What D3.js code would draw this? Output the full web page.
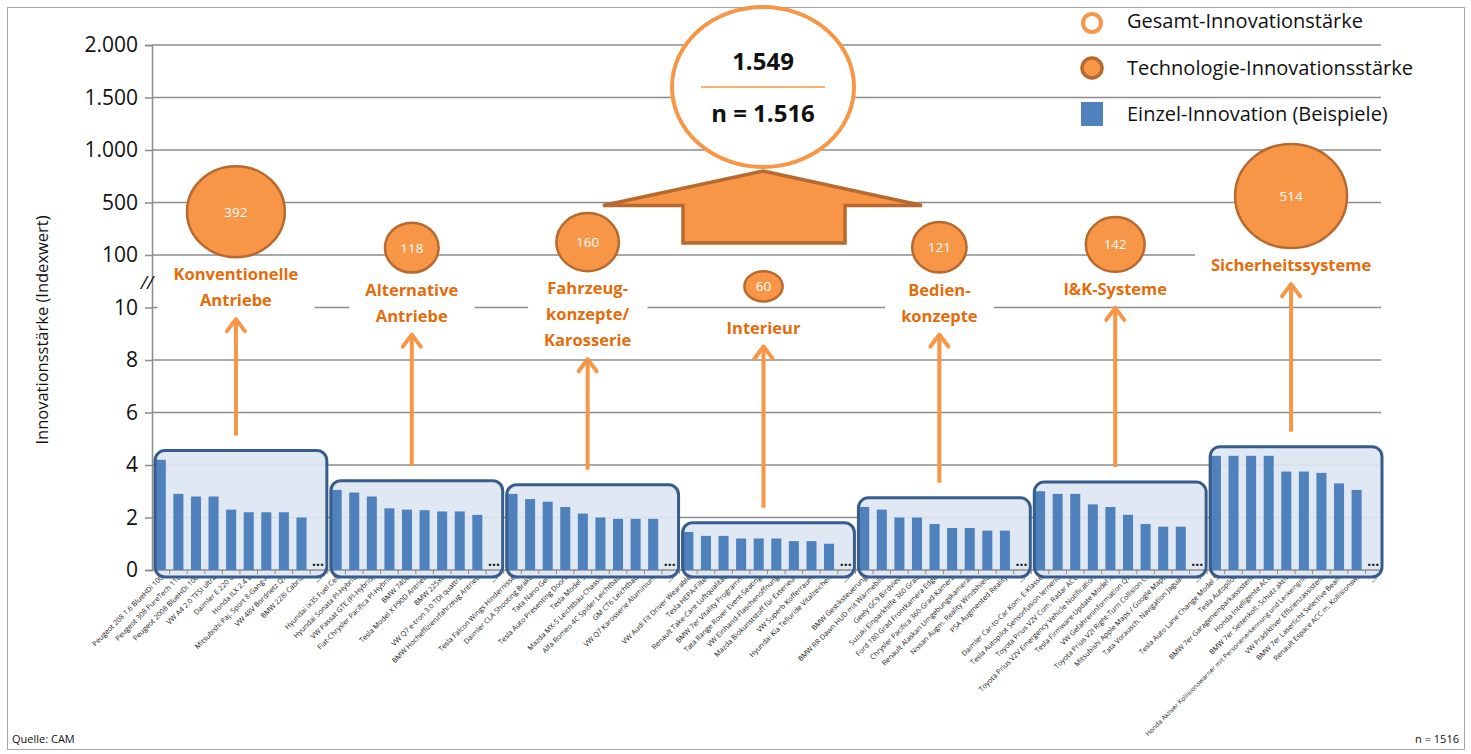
<!DOCTYPE html>
<html>
<head>
<meta charset="utf-8">
<script src="https://cdn.jsdelivr.net/npm/d3@7"></script>
<style>
  body { margin: 0; background: #fff; }
  svg { font-family: "Open Sans", Lato, sans-serif; }
</style>
</head>
<body>
<svg id="chart"></svg>
<script>
// Innovationsstärke nach Technologiefeldern

const width = 1471, height = 754;

const yTicks = [0, 2, 4, 6, 8, 10, 100, 500, 1000, 1500, 2000];
const yTickLabels = ["0", "2", "4", "6", "8", "10", "100", "500", "1.000", "1.500", "2.000"];

const fieldNames = [
    ["Konventionelle", "Antriebe"],
    ["Alternative", "Antriebe"],
    ["Fahrzeug-", "konzepte/", "Karosserie"],
    ["Interieur"],
    ["Bedien-", "konzepte"],
    ["I&K-Systeme"],
    ["Sicherheitssysteme"]
];
const fieldScores = [392, 118, 160, 60, 121, 142, 514];

const innovationNames = [
    ["Peugeot 208 1.6 BlueHDi 100", "Peugeot 308 PureTech 110", "Peugeot 2008 BlueHDi 100", "VW A4 2.0 TFSI ultra",
     "Daimler E 220 d", "Honda ILX 2.4 L", "Mitsubishi Paj. Sport 8-Gang-A", "VW 48V Bordnetz Q7", "BMW 228i Cabrio"],
    ["Hyundai ix35 Fuel Cell", "Hyundai Sonata Pl-Hybrid", "VW Passat GTE (Pl-Hybrid)", "Fiat-Chrysler Pacifica Pl-Hybrid",
     "BMW 740e", "Tesla Model X P90D Antrieb", "BMW 225xe", "VW Q7 e-tron 3.0 TDI quattro", "BMW Hocheffizienzfahrzeug Antrieb"],
    ["Tesla Falcon Wings Hindernisse", "Daimler CLA Shooting Brake", "Tata Nano Gen", "Tesla Auto Presenting Doors",
     "Tesla Model 3", "Mazda MX-5 Leichtbau-Chassis", "Alfa Romeo 4C Spider Leichtbau", "GM CT6 Leichtbau", "VW Q7 Karosserie Aluminium"],
    ["VW Audi Fit Driver Wearable", "Tesla HEPA-Filter", "Renault Take-Care Luftqualität", "BMW 7er Vitality Programm",
     "Tata Range Rover Event-Seating", "VW Einhand-Flaschenöffnung", "Mazda Biokunststoff für Exterieur", "VW Superb Kofferraum",
     "Hyundai Kia Telluride Vitalzeichen"],
    ["BMW Gestiksteuerung", "BMW RR Dawn HUD mit Wärmebild", "Geely GC9 Birdview", "Suzuki Einparkhilfe 360 Grad",
     "Ford 180 Grad Frontkamera Edge", "Chrysler Pacifica 360-Grad-Kamera", "Renault Alaskan Umgebungskameras",
     "Nissan Augm. Reality Windshield", "PSA Augmented Reality"],
    ["Daimler Car-to-Car Kom. E-Klasse", "Tesla Autopilot Sensorfusion lernend", "Toyota Prius V2V Com. Radar ACC",
     "Toyota Prius V2V Emergency Vehicle Notification", "Tesla Firmware-Update Model X", "VW Gefahreninformation Q7",
     "Toyota Prius V2I Right-Turn Collision C.", "Mitsubishi Apple Maps / Google Maps", "Tata Vorausch. Navigation Jaguar"],
    ["Tesla Auto Lane Change Model S", "Tesla Autopilot", "BMW 7er Garageneinparkassistent", "Honda Intelligente ACC",
     "BMW 7er Seitenkoll.-Schutz aktiv", "Honda Aktiver Kollisionswarner mit Personenerkennung und Lenkeingriff",
     "VW Prädiktiver Effizienzassistent", "BMW 7er Laserlicht Selective Beam", "Renault Espace ACC m. Kollisionsw."]
];
const innovationValues = [
    [4.2, 2.9, 2.8, 2.8, 2.3, 2.2, 2.2, 2.2, 2.0],
    [3.05, 2.95, 2.8, 2.35, 2.3, 2.28, 2.23, 2.23, 2.1],
    [2.9, 2.7, 2.6, 2.4, 2.15, 2.0, 1.95, 1.95, 1.95],
    [1.45, 1.3, 1.3, 1.2, 1.2, 1.2, 1.1, 1.1, 1.0],
    [2.4, 2.3, 2.0, 2.0, 1.75, 1.6, 1.6, 1.5, 1.5],
    [3.0, 2.9, 2.9, 2.5, 2.4, 2.1, 1.75, 1.65, 1.65],
    [4.35, 4.35, 4.35, 4.35, 3.75, 3.75, 3.7, 3.3, 3.05]
];
const totalScore = "1.549";
const totalCount = "n = 1.516";
const legendItems = ["Gesamt-Innovationstärke", "Technologie-Innovationsstärke", "Einzel-Innovation (Beispiele)"];
const sourceText = "Quelle: CAM";
const sampleText = "n = 1516";

const orange = "#F79646", orangeDark = "#B8692F", orangeText = "#E46C0A";
const barBlue = "#4F81BD", boxStroke = "#385D8A", boxFill = "#DCE6F2";

// one slot per innovation plus a "..." slot per field
const slots = [];
innovationNames.forEach((names, g) => {
    names.forEach((n, i) => slots.push({ key: g + "-" + i, group: g, name: n, value: innovationValues[g][i] }));
    slots.push({ key: g + "-more", group: g, name: "…", value: null });
});

const svg = d3.select("#chart").attr("width", width).attr("height", height);

svg.append("rect")
    .attr("x", 7.5).attr("y", 7.5).attr("width", width - 14).attr("height", height - 12)
    .attr("fill", "#fff").attr("stroke", "#a6a6a6");

const plotLeft = 152, plotRight = 1383;
const x = d3.scaleBand().domain(slots.map(d => d.key)).range([plotLeft, plotRight]);
const y = d3.scaleLinear()
    .domain(yTicks)
    .range(yTicks.map((d, i) => 570 - i * 52.5));
const r = d3.scaleSqrt().domain([0, 514]).range([0, 56]);

const barW = x.bandwidth() * 0.57;
const cx = k => x(k) + x.bandwidth() / 2;

// gridlines
svg.append("g").selectAll("line")
    .data(yTicks.slice(1))
    .join("line")
    .attr("x1", plotLeft).attr("x2", plotRight - 2)
    .attr("y1", d => y(d)).attr("y2", d => y(d))
    .attr("stroke", "#8c8c8c").attr("stroke-width", 1.5);

// y axis
const yAxis = svg.append("g")
    .attr("transform", `translate(${plotLeft},0)`)
    .call(d3.axisLeft(y).tickValues(yTicks).tickSize(7).tickFormat((d, i) => yTickLabels[i]));
yAxis.select(".domain").attr("stroke", "#8c8c8c").attr("stroke-width", 1.5);
yAxis.selectAll(".tick line").attr("stroke", "#8c8c8c").attr("stroke-width", 1.5);
yAxis.selectAll(".tick text").attr("font-size", 21).attr("fill", "#111").attr("x", -14)
    .attr("font-family", "'Open Sans', sans-serif");

// axis break mark
svg.append("text")
    .attr("x", plotLeft - 5).attr("y", (y(10) + y(100)) / 2 + 8)
    .attr("text-anchor", "middle").attr("font-size", 18).attr("fill", "#111")
    .attr("font-style", "italic")
    .text("//");

svg.append("text")
    .attr("transform", `translate(48,${y(8) - 30}) rotate(-90)`)
    .attr("text-anchor", "middle").attr("font-size", 16.5).attr("fill", "#111")
    .text("Innovationsstärke (Indexwert)");

// x labels
svg.append("g").selectAll("text")
    .data(slots)
    .join("text")
    .attr("transform", d => `translate(${cx(d.key) + 3},${y(0) + 8}) rotate(-45)`)
    .attr("text-anchor", "end")
    .attr("font-size", d => d.value === null ? 9 : d.name.length > 50 ? 6.6 : 7.2)
    .attr("fill", "#222")
    .text(d => d.name);

// field boxes
const groups = fieldNames.map((lines, g) => {
    const s = slots.filter(d => d.group === g);
    const x0 = x(s[0].key), x1 = x(s[s.length - 1].key) + x.bandwidth();
    const maxV = d3.max(s, d => d.value);
    const center = (x0 + x1) / 2 - 4;
    return { g, lines, x0, x1, maxV, center, score: fieldScores[g], slots: s };
});

const boxAttrs = sel => sel
    .attr("x", d => d.x0 + 3).attr("width", d => d.x1 - d.x0 - 4)
    .attr("y", d => y(d.maxV + 0.35)).attr("height", d => y(0) + 7 - y(d.maxV + 0.35))
    .attr("rx", 10);

svg.append("g").selectAll("rect")
    .data(groups)
    .join("rect")
    .call(boxAttrs)
    .attr("fill", boxFill).attr("fill-opacity", 0.92);

// x ticks at slot borders
svg.append("g").selectAll("line")
    .data(slots.slice(1))
    .join("line")
    .attr("x1", d => x(d.key)).attr("x2", d => x(d.key))
    .attr("y1", y(0)).attr("y2", y(0) + 4)
    .attr("stroke", "#8c8c8c");
svg.append("line")
    .attr("x1", plotLeft).attr("x2", plotRight - 2)
    .attr("y1", y(0)).attr("y2", y(0))
    .attr("stroke", "#8c8c8c").attr("stroke-width", 1.5);

// bars
svg.append("g").selectAll("rect")
    .data(slots.filter(d => d.value !== null))
    .join("rect")
    .attr("x", d => cx(d.key) - barW / 2)
    .attr("width", barW)
    .attr("y", d => y(d.value))
    .attr("height", d => y(0) - y(d.value))
    .attr("fill", barBlue);

svg.append("g").selectAll("text")
    .data(slots.filter(d => d.value === null))
    .join("text")
    .attr("x", d => cx(d.key) - 1).attr("y", y(0) - 4)
    .attr("text-anchor", "middle").attr("font-size", 14).attr("font-weight", "bold")
    .attr("fill", "#111")
    .text("...");

svg.append("g").selectAll("rect")
    .data(groups)
    .join("rect")
    .call(boxAttrs)
    .attr("fill", "none").attr("stroke", boxStroke).attr("stroke-width", 3);

// field bubbles, names and arrows
const lineH = 26;
groups.forEach(d => {
    const rx = r(d.score), ry = rx * 0.93;
    // small fields hang lower, between the 10 and 100 lines
    const by = d.score < 100 ? y(d.score) + 8 : y(d.score) - 5;
    const g = svg.append("g");

    const first = by > y(100) ? y(10) + 26 : by + ry + 23;
    const labelBg = g.append("rect").attr("fill", "#fff");
    const label = g.append("text")
        .attr("text-anchor", "middle").attr("font-size", 16.5).attr("font-weight", "bold")
        .attr("fill", orangeText);
    d.lines.forEach((t, i) => {
        label.append("tspan").attr("x", d.center).attr("y", first + i * lineH).text(t);
    });
    const bb = label.node().getBBox();
    labelBg.attr("x", bb.x - 16).attr("y", bb.y - 1).attr("width", bb.width + 32).attr("height", bb.height + 3);

    g.append("ellipse")
        .attr("cx", d.center).attr("cy", by).attr("rx", rx).attr("ry", ry * (d.score < 100 ? 0.85 : 1))
        .attr("fill", orange).attr("stroke", orangeDark).attr("stroke-width", 2.5);
    g.append("text")
        .attr("x", d.center).attr("y", by + 5).attr("text-anchor", "middle")
        .attr("font-size", 13.5).attr("fill", "#fff")
        .text(d.score);

    const tip = first + (d.lines.length - 1) * lineH + 12;
    const bottom = y(d.maxV + 0.35) - 15;
    g.append("line")
        .attr("x1", d.center).attr("x2", d.center).attr("y1", bottom).attr("y2", tip + 2)
        .attr("stroke", orange).attr("stroke-width", 4);
    g.append("path")
        .attr("d", `M${d.center - 9},${tip + 13}L${d.center},${tip + 1}L${d.center + 9},${tip + 13}`)
        .attr("fill", "none").attr("stroke", orange).attr("stroke-width", 4)
        .attr("stroke-linecap", "round").attr("stroke-linejoin", "round");
});

// total: big arrow + circle
const tx = 763;
const arrowTop = y(1000) + 21, wingY = y(500) + 3, baseY = y(100) - 12;
svg.append("path")
    .attr("d", `M${tx},${arrowTop}L${tx + 159},${wingY}L${tx + 82},${wingY}L${tx + 82},${baseY}` +
               `L${tx - 80},${baseY}L${tx - 80},${wingY}L${tx - 160},${wingY}Z`)
    .attr("fill", orange).attr("stroke", orangeDark).attr("stroke-width", 3.5);

svg.append("ellipse")
    .attr("cx", tx).attr("cy", 87).attr("rx", 91).attr("ry", 80)
    .attr("fill", "#fff").attr("stroke", orange).attr("stroke-width", 4);
svg.append("line")
    .attr("x1", tx - 62).attr("x2", tx + 62).attr("y1", 87).attr("y2", 87)
    .attr("stroke", orange).attr("stroke-width", 1.5);
svg.append("text")
    .attr("x", tx).attr("y", 70).attr("text-anchor", "middle")
    .attr("font-size", 24).attr("font-weight", "bold").attr("fill", "#111")
    .text(totalScore);
svg.append("text")
    .attr("x", tx).attr("y", 122).attr("text-anchor", "middle")
    .attr("font-size", 24).attr("font-weight", "bold").attr("fill", "#111")
    .text(totalCount);

// legend
const legend = svg.append("g").attr("transform", "translate(1092,0)");
legend.append("circle").attr("cx", 0).attr("cy", 23).attr("r", 9)
    .attr("fill", "#fff").attr("stroke", orange).attr("stroke-width", 4);
legend.append("circle").attr("cx", 0).attr("cy", 68).attr("r", 10)
    .attr("fill", orange).attr("stroke", orangeDark).attr("stroke-width", 3.5);
legend.append("rect").attr("x", -11).attr("y", 102).attr("width", 22).attr("height", 24)
    .attr("fill", barBlue);
legend.selectAll("text.lg")
    .data(legendItems)
    .join("text")
    .attr("class", "lg")
    .attr("x", 35).attr("y", (d, i) => 28 + i * 46.5)
    .attr("font-size", 20).attr("fill", "#111")
    .text(d => d);

// footer
svg.append("text")
    .attr("x", 12).attr("y", 743).attr("font-size", 11).attr("fill", "#111")
    .text(sourceText);
svg.append("text")
    .attr("x", 1459).attr("y", 743).attr("text-anchor", "end").attr("font-size", 11).attr("fill", "#111")
    .text(sampleText);
</script>
</body>
</html>
